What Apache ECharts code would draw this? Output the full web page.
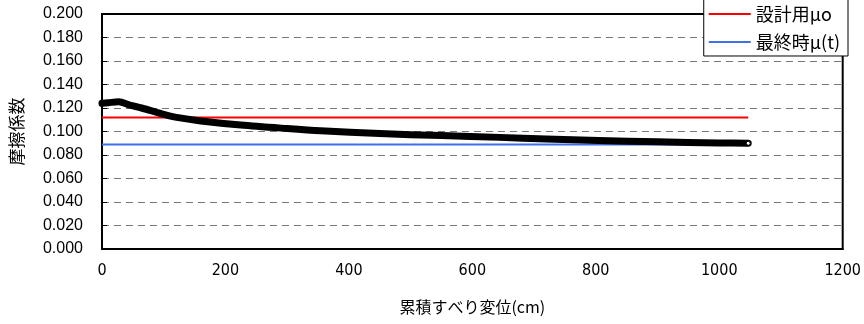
<!DOCTYPE html>
<html>
<head>
<meta charset="utf-8">
<script src="https://cdn.jsdelivr.net/npm/echarts@6/dist/echarts.min.js"></script>
<style>
html,body{margin:0;padding:0;background:#fff;}
#c{width:864px;height:324px;}
</style>
</head>
<body>
<div id="c"></div>
<script>
// Measured friction curve (cumulative slip cm, friction coefficient)
const slipX = [0, 10, 27, 45, 64, 97, 121, 160, 225, 300, 354, 450, 550, 644, 720, 805, 900, 1000, 1047];
const muY   = [0.124, 0.1245, 0.1253, 0.1225, 0.120, 0.115, 0.112, 0.109, 0.1055, 0.1025, 0.1006, 0.0982, 0.0965, 0.095, 0.0937, 0.0924, 0.0912, 0.0903, 0.0900];
// Design value line
const designX = [0, 1047];
const designY = [0.112, 0.112];
// Final value line
const finalX = [0, 1047];
const finalY = [0.089, 0.089];
const xTicks = [0, 200, 400, 600, 800, 1000, 1200];
const yTicks = [0, 0.02, 0.04, 0.06, 0.08, 0.10, 0.12, 0.14, 0.16, 0.18, 0.20];
const seriesNames = ['設計用μo', '最終時μ(t)'];

const jp = '"Noto Sans CJK JP", "Noto Sans", sans-serif';
const zip = (xs, ys) => xs.map((x, i) => [x, ys[i]]);

const curveData = zip(slipX, muY).map((p, i, arr) => i === arr.length - 1
  ? { value: p, symbol: 'circle', symbolSize: 4, itemStyle: { color: '#fff', borderColor: '#000', borderWidth: 1 } }
  : { value: p, symbol: 'none' });

const splitColors = yTicks.map((v, i) => (i === 0 || i === yTicks.length - 1) ? 'rgba(0,0,0,0)' : '#777');

const chart = echarts.init(document.getElementById('c'), null, { renderer: 'canvas' });
chart.setOption({
  animation: false,
  backgroundColor: '#fff',
  grid: { left: 100, right: 19, top: 14, bottom: 75, show: true, borderColor: '#000', borderWidth: 2, backgroundColor: '#fff' },
  legend: {
    data: seriesNames,
    orient: 'vertical',
    right: 16,
    top: -1,
    padding: [6, 8, 5, 5],
    itemGap: 10,
    itemWidth: 42,
    itemHeight: 2,
    icon: 'rect',
    backgroundColor: '#fff',
    borderColor: '#000',
    borderWidth: 1,
    textStyle: { fontFamily: jp, fontSize: 18, color: '#000' }
  },
  xAxis: {
    type: 'value',
    min: xTicks[0],
    max: xTicks[xTicks.length - 1],
    interval: 200,
    name: '累積すべり変位(cm)',
    nameLocation: 'middle',
    nameGap: 50,
    nameTextStyle: { fontFamily: jp, fontSize: 16, color: '#000' },
    axisLine: { show: true, lineStyle: { color: '#000', width: 2 } },
    axisTick: { show: false },
    splitLine: { show: false },
    axisLabel: { margin: 14, fontFamily: '"Liberation Sans Narrow", "DejaVu Sans Condensed", sans-serif', fontSize: 16, color: '#000', formatter: v => String(v) }
  },
  yAxis: {
    type: 'value',
    min: yTicks[0],
    max: yTicks[yTicks.length - 1],
    interval: 0.02,
    name: '摩擦係数',
    nameLocation: 'middle',
    nameRotate: 90,
    nameGap: 77,
    nameTextStyle: { fontFamily: jp, fontSize: 17, color: '#000' },
    axisLine: { show: true, lineStyle: { color: '#000', width: 2 } },
    axisTick: { show: true, inside: true, length: 5, lineStyle: { color: '#000' } },
    splitLine: { show: true, lineStyle: { color: splitColors, type: [7, 5], width: 1 } },
    axisLabel: { margin: 19, fontFamily: '"Liberation Sans", Arial, sans-serif', fontSize: 16, color: '#000', formatter: v => v.toFixed(3) }
  },
  series: [
    {
      name: seriesNames[0], type: 'line', data: zip(designX, designY), showSymbol: false, symbol: 'none',
      lineStyle: { color: '#ff0000', width: 2 }, itemStyle: { color: '#ff0000' }, z: 2
    },
    {
      name: seriesNames[1], type: 'line', data: zip(finalX, finalY), showSymbol: false, symbol: 'none',
      lineStyle: { color: '#3f6fe8', width: 2 }, itemStyle: { color: '#3f6fe8' }, z: 2
    },
    {
      name: 'curve', type: 'line', data: curveData, smooth: 0.3,
      lineStyle: { color: '#000', width: 7, cap: 'round', join: 'round' }, itemStyle: { color: '#000' }, z: 3
    }
  ]
});
</script>
</body>
</html>
